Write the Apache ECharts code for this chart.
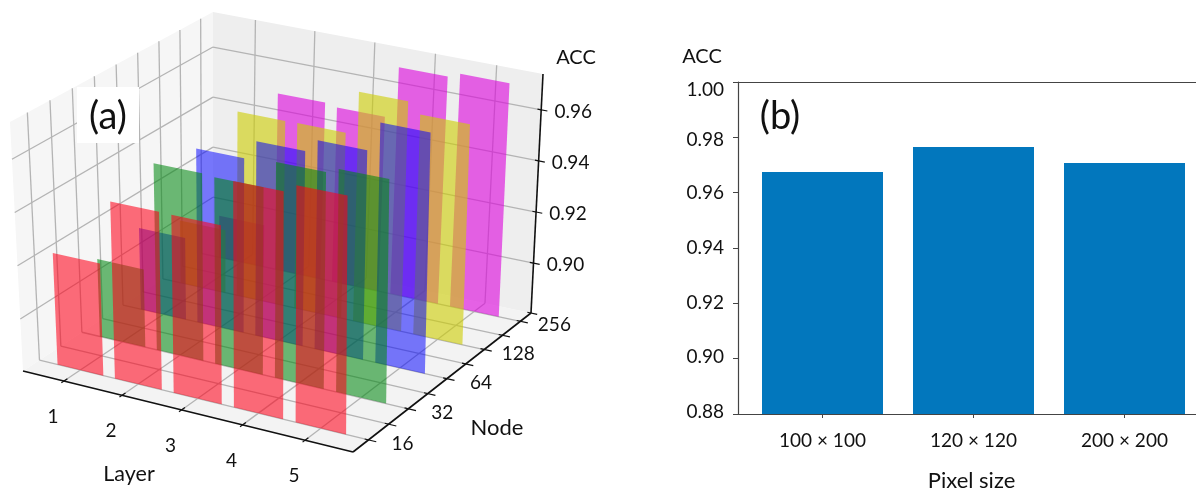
<!DOCTYPE html>
<html><head><meta charset="utf-8">
<style>html,body{margin:0;padding:0;background:#fff;overflow:hidden}#c{width:1196px;height:490px}</style>
<script src="https://cdn.jsdelivr.net/npm/echarts@6/dist/echarts.min.js"></script>
</head><body><div id="c"></div>
<script>
// ---- data ----
const layers = ['1','2','3','4','5'];
const nodes = ['16','32','64','128','256'];
const accTicks = [0.90,0.92,0.94,0.96];
const acc16  = [0.9225,0.9468,0.9466,0.9639,0.9671];
const acc32  = [0.9101,0.9515,0.9509,0.9614,0.9635];
const acc64  = [0.912,0.9475,0.955,0.96,0.9714];
const acc128 = [0.905,0.9524,0.9525,0.9693,0.9651];
const acc256 = [0.897,0.9502,0.9492,0.9696,0.9716];
const rowColors = ['rgba(255,0,25,0.57)','rgba(0,135,15,0.57)','rgba(0,0,255,0.52)','rgba(205,205,0,0.6)','rgba(220,0,220,0.6)'];
const pixelSizes = ['100 × 100','120 × 120','200 × 200'];
const pixelAcc = [0.9675,0.9765,0.9707];

// ---- camera of panel (a): screen position of the box corners [u,v]
const floorC = {p00:[23,371],p10:[353,452],p11:[531,313],p01:[213,246]};
const ceilC  = {p00:[10,122],p10:[354,191],p11:[543,74],p01:[213,12]};
const layerRange=[0.28,5.75], nodeRange=[-0.38,4.3], zRange=[0.8805,0.974];

function homography(c){
  const [x0,y0]=c.p00,[x1,y1]=c.p10,[x2,y2]=c.p11,[x3,y3]=c.p01;
  const dx1=x1-x2,dx2=x3-x2,sx=x0-x1+x2-x3,dy1=y1-y2,dy2=y3-y2,sy=y0-y1+y2-y3;
  const d=dx1*dy2-dx2*dy1,g=(sx*dy2-dx2*sy)/d,h=(dx1*sy-sx*dy1)/d;
  const a=x1-x0+g*x1,b=x3-x0+h*x3,e=y1-y0+g*y1,f=y3-y0+h*y3;
  return (u,v)=>{const w=g*u+h*v+1;return [(a*u+b*v+x0)/w,(e*u+f*v+y0)/w];};
}
const Hf=homography(floorC),Hc=homography(ceilC);
function proj(l,n,z){
  const u=(l-layerRange[0])/(layerRange[1]-layerRange[0]);
  const v=(n-nodeRange[0])/(nodeRange[1]-nodeRange[0]);
  const t=(z-zRange[0])/(zRange[1]-zRange[0]);
  const a=Hf(u,v),b=Hc(u,v);
  return [a[0]+(b[0]-a[0])*t,a[1]+(b[1]-a[1])*t];
}
const L0=layerRange[0],L1=layerRange[1],N0=nodeRange[0],N1=nodeRange[1],Z0=zRange[0],Z1=zRange[1];
const nodeGrid=[0,0.5,1,1.5,2,2.5,3,3.5,4];
const layerGrid=[1,2,3,4,5];

// scene primitives, all in data space (layer,node,acc)
function poly(pts,fill){return {kind:'poly',pts,fill};}
function seg(a,b,color,w){return {kind:'line',a,b,color,w};}
function txt(at,dx,dy,text,size){return {kind:'text',at,dx,dy,text,size};}
const scene=[];
scene.push(poly([[L0,N0,Z0],[L1,N0,Z0],[L1,N1,Z0],[L0,N1,Z0]],'#f3f3f3'));
scene.push(poly([[L0,N0,Z0],[L0,N1,Z0],[L0,N1,Z1],[L0,N0,Z1]],'#f6f6f6'));
scene.push(poly([[L0,N1,Z0],[L1,N1,Z0],[L1,N1,Z1],[L0,N1,Z1]],'#eeeeee'));
const gc='#b4b4b4';
nodeGrid.forEach(n=>{
  scene.push(seg([L0,n,Z0],[L1,n,Z0],gc,1.3));
  scene.push(seg([L0,n,Z0],[L0,n,Z1],gc,1.3));
});
layerGrid.forEach(l=>{
  scene.push(seg([l,N0,Z0],[l,N1,Z0],gc,1.3));
  scene.push(seg([l,N1,Z0],[l,N1,Z1],gc,1.3));
});
accTicks.forEach(z=>{
  scene.push(seg([L0,N0,z],[L0,N1,z],gc,1.3));
  scene.push(seg([L0,N1,z],[L1,N1,z],gc,1.3));
});
const rows=[acc16,acc32,acc64,acc128,acc256];
const bw=0.4;
for(let r=4;r>=0;r--){
  rows[r].forEach((a,i)=>{
    const l=i+1;
    scene.push(poly([[l-bw,r,Z0],[l+bw,r,Z0],[l+bw,r,a],[l-bw,r,a]],rowColors[r]));
  });
}
const ax='#111111';
scene.push(seg([L0,N0,Z0],[L1,N0,Z0],ax,1.6));
scene.push(seg([L1,N0,Z0],[L1,N1,Z0],ax,1.6));
scene.push(seg([L1,N1,Z0],[L1,N1,Z1],ax,1.6));
layerGrid.forEach(l=>{
  scene.push(seg([l,N0-0.06,Z0],[l,N0+0.08,Z0],ax,1.2));
  scene.push(txt([l,N0,Z0],-11,36,layers[l-1],19));
});
nodeGrid.forEach((n,i)=>{
  scene.push(seg([L1-0.06,n,Z0],[L1+0.12,n,Z0],ax,1.2));
  if(i%2===0) scene.push(txt([L1,n,Z0],34,4,nodes[i/2],19));
});
accTicks.concat([Z0]).forEach(z=>{
  scene.push(seg([L1-0.06,N1,z],[L1+0.1,N1,z],ax,1.2));
});
accTicks.forEach(z=>scene.push(txt([L1,N1,z],32,2,z.toFixed(2),19)));

function renderScene(p,api){
  const s=scene[api.value(0)];
  const P=q=>{const w=proj(q[0],q[1],q[2]);return api.coord(w);};
  if(s.kind==='poly') return {type:'polygon',shape:{points:s.pts.map(P)},style:{fill:s.fill}};
  if(s.kind==='line'){const a=P(s.a),b=P(s.b);return {type:'line',shape:{x1:a[0],y1:a[1],x2:b[0],y2:b[1]},style:{stroke:s.color,lineWidth:s.w}};}
  const a=P(s.at);
  return {type:'text',x:a[0]+s.dx,y:a[1]+s.dy,style:{text:s.text,fill:'#111',font:s.size+'px Lato',textAlign:'center',textVerticalAlign:'middle'}};
}

const fs=19;
const lab={fontSize:fs,fontFamily:'Lato',color:'#111'};
const chart=echarts.init(document.getElementById('c'),null,{renderer:'canvas'});
chart.setOption({
  animation:false,backgroundColor:'#fff',textStyle:{fontFamily:'Lato',color:'#111'},
  grid:[
    {left:0,top:0,width:1196,height:490,show:false,outerBoundsMode:'none'},
    {left:738,top:82,width:458,height:332,outerBoundsMode:'none'},
    {left:747,top:82,width:453,height:332,outerBoundsMode:'none'}
  ],
  xAxis:[
    {gridIndex:0,type:'value',min:0,max:1196,show:false},
    {gridIndex:1,type:'value',min:0,max:1,position:'bottom',axisLine:{show:true,onZero:false,lineStyle:{color:'#444',width:1.2}},axisTick:{show:false},axisLabel:{show:false},splitLine:{show:false}},
    {gridIndex:1,type:'value',min:0,max:1,position:'top',axisLine:{show:true,onZero:false,lineStyle:{color:'#444',width:1.2}},axisTick:{show:false},axisLabel:{show:false},splitLine:{show:false}},
    {gridIndex:2,type:'category',data:pixelSizes,axisLine:{show:false,onZero:false},axisTick:{show:true,alignWithLabel:true,length:4,lineStyle:{color:'#444'}},
     axisLabel:{color:'#111',fontSize:fs,fontFamily:'Lato',margin:17},name:'Pixel size',nameLocation:'middle',nameGap:56,nameTextStyle:{color:'#111',fontSize:22,fontFamily:'Lato',padding:[0,0,0,-4]}}
  ],
  yAxis:[
    {gridIndex:0,type:'value',min:0,max:490,inverse:true,show:false},
    {gridIndex:1,type:'value',min:0.88,max:1,interval:0.02,axisLine:{show:true,onZero:false,lineStyle:{color:'#444',width:1.2}},axisTick:{show:true,length:5,lineStyle:{color:'#444'}},
     axisLabel:{margin:14,formatter:v=>{
        const t=v.toFixed(2);
        return '{'+(t==='1.00'?'a':t==='0.98'?'b':t==='0.90'||t==='0.88'?'d':'c')+'|'+t+'}';},
        rich:{a:{...lab,padding:[16,0,0,0]},b:{...lab,padding:[6,0,0,0]},c:{...lab},d:{...lab,padding:[0,0,4,0]}}},
     splitLine:{show:false},
     name:'ACC',nameLocation:'end',nameGap:15,nameTextStyle:{color:'#111',fontSize:20,fontFamily:'Lato',align:'center',padding:[0,72,0,0]}},
    {gridIndex:2,type:'value',min:0.88,max:1,interval:0.02,axisLine:{show:false},axisTick:{show:false},axisLabel:{show:false},splitLine:{show:false}}
  ],
  series:[
    {type:'custom',coordinateSystem:'cartesian2d',xAxisIndex:0,yAxisIndex:0,clip:false,silent:true,
     renderItem:renderScene,data:scene.map((s,i)=>[i]),encode:{x:0},z:1},
    {type:'bar',xAxisIndex:3,yAxisIndex:2,data:pixelAcc,barWidth:121,itemStyle:{color:'#0277bd'},silent:true,z:2}
  ],
  graphic:[
    {type:'rect',shape:{x:77,y:87,width:62,height:56},style:{fill:'#fff'},z:10},
    {type:'text',x:108,y:117,style:{text:'(a)',font:'38px Lato',fill:'#111',textAlign:'center',textVerticalAlign:'middle'},z:11},
    {type:'text',x:780,y:117,style:{text:'(b)',font:'38px Lato',fill:'#111',textAlign:'center',textVerticalAlign:'middle'},z:11},
    {type:'text',x:576,y:58,style:{text:'ACC',font:'20px Lato',fill:'#111',textAlign:'center',textVerticalAlign:'middle'},z:11},
    {type:'text',x:129,y:474,style:{text:'Layer',font:'21.5px Lato',fill:'#111',textAlign:'center',textVerticalAlign:'middle'},z:11},
    {type:'text',x:497,y:428,style:{text:'Node',font:'22px Lato',fill:'#111',textAlign:'center',textVerticalAlign:'middle'},z:11}
  ]
});
</script></body></html>
